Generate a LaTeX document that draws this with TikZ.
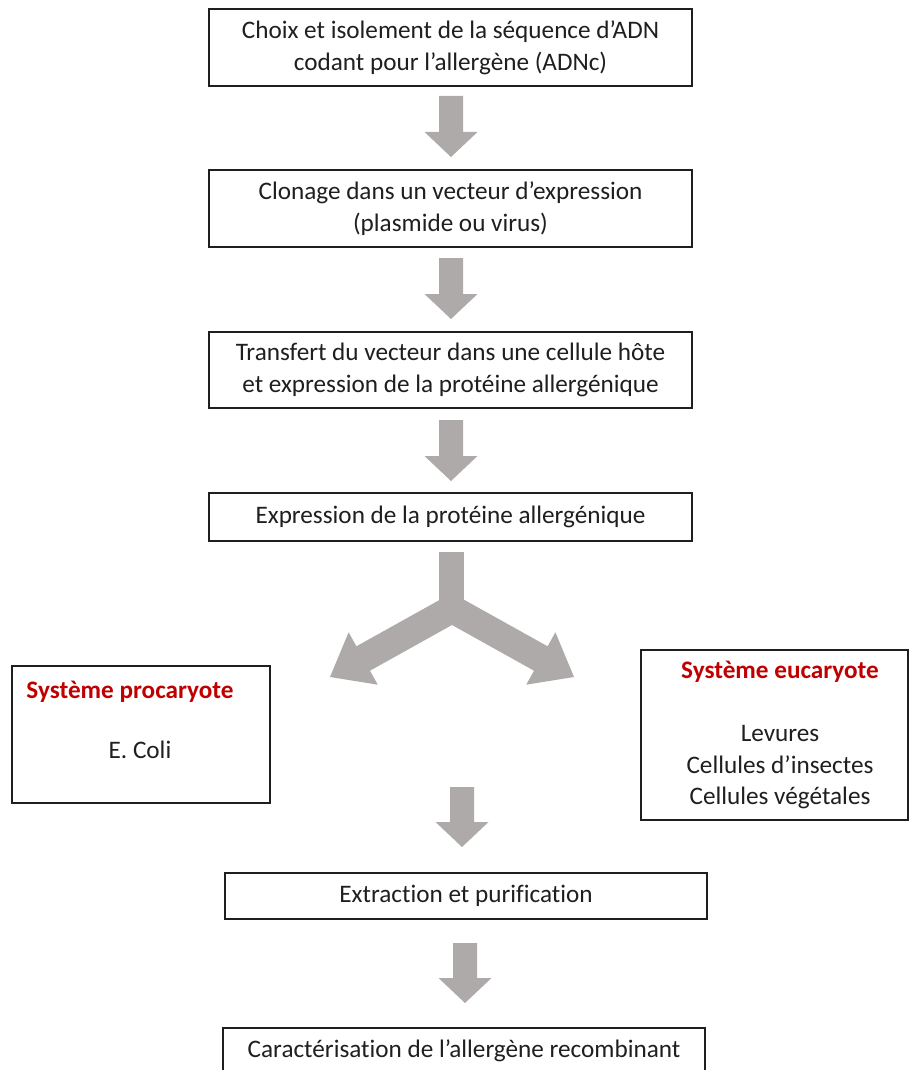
\documentclass[tikz,border=0pt]{standalone}
\usepackage{fontspec}
\setmainfont{Carlito}[Ligatures=NoCommon]
\definecolor{arrowgray}{HTML}{AEAAAA}
\definecolor{titlered}{HTML}{C00000}
\definecolor{ink}{HTML}{1F1F1F}
\begin{document}
\begin{tikzpicture}[x=0.75pt,y=-0.75pt,
  stepbox/.style={draw=ink,line width=1.1pt,inner sep=0pt,align=center,text=ink,
    font=\fontsize{18.9}{23.8}\selectfont},
  plain/.style={inner sep=0pt,align=center,text=ink,font=\fontsize{18.9}{23.6}\selectfont},
  redtitle/.style={inner sep=0pt,text=titlered,font=\fontsize{18.9}{23.6}\selectfont\bfseries},
  fat/.style={fill=arrowgray,draw=none}]
\clip (0,0) rectangle (910,1070);
\fill[white] (0,0) rectangle (910,1070);

% main boxes
\node[stepbox,minimum width=362.25pt,minimum height=57.75pt] (b1) at (450.5,47.5)
  {Choix et isolement de la séquence d’ADN\\codant pour l’allergène (ADNc)};
\node[stepbox,minimum width=362.25pt,minimum height=57.75pt] (b2) at (450.5,208.5)
  {Clonage dans un vecteur d’expression\\(plasmide ou virus)};
\node[stepbox,minimum width=362.25pt,minimum height=57pt] (b3) at (450.5,370)
  {Transfert du vecteur dans une cellule hôte\\et expression de la protéine allergénique};
\node[stepbox,minimum width=362.25pt,minimum height=36pt] (b4) at (450.5,517)
  {Expression de la protéine allergénique};
\node[stepbox,minimum width=361.5pt,minimum height=34.5pt] (b5) at (466,896)
  {Extraction et purification};
\node[stepbox,minimum width=361.5pt,minimum height=34.5pt] (b6) at (464,1051)
  {Caractérisation de l’allergène recombinant};

% side boxes
\node[stepbox,minimum width=193.5pt,minimum height=102.75pt] (pro) at (141,734.5) {};
\node[redtitle] (protitle) at (130,692) {Système procaryote};
\node[plain] (protext) at (140,750) {E. Coli};

\node[stepbox,minimum width=200.25pt,minimum height=127.5pt] (eu) at (774.5,735) {};
\node[plain] (eutext) at (780,735)
  {\textcolor{titlered}{\bfseries Système eucaryote}\\[23.6pt]Levures\\Cellules d’insectes\\Cellules végétales};

% fat down arrows
\newcommand\fatdown[3]{% center x, top y, tip y
  \fill[fat] (#1-12,#2) -- (#1+12,#2) -- (#1+12,#3-25) -- (#1+26.5,#3-25)
    -- (#1,#3) -- (#1-26.5,#3-25) -- (#1-12,#3-25) -- cycle;}
\fatdown{451}{96}{157}
\fatdown{451}{258}{319}
\fatdown{451}{420}{481}
\fatdown{462}{787}{847}
\fatdown{465}{943}{1003}

% split arrow
\fill[fat] (439,552) rectangle (464,612);
% left branch
\fill[fat] (445.2,596.8) -- (356.4,646.3) -- (348.6,632.3) -- (330,677)
  -- (377.8,684.7) -- (370.0,670.7) -- (458.8,621.2) -- cycle;
% right branch (mirror about x=452)
\fill[fat] (458.8,596.8) -- (547.6,646.3) -- (555.4,632.3) -- (574,677)
  -- (526.2,684.7) -- (534.0,670.7) -- (445.2,621.2) -- cycle;
\end{tikzpicture}
\end{document}
